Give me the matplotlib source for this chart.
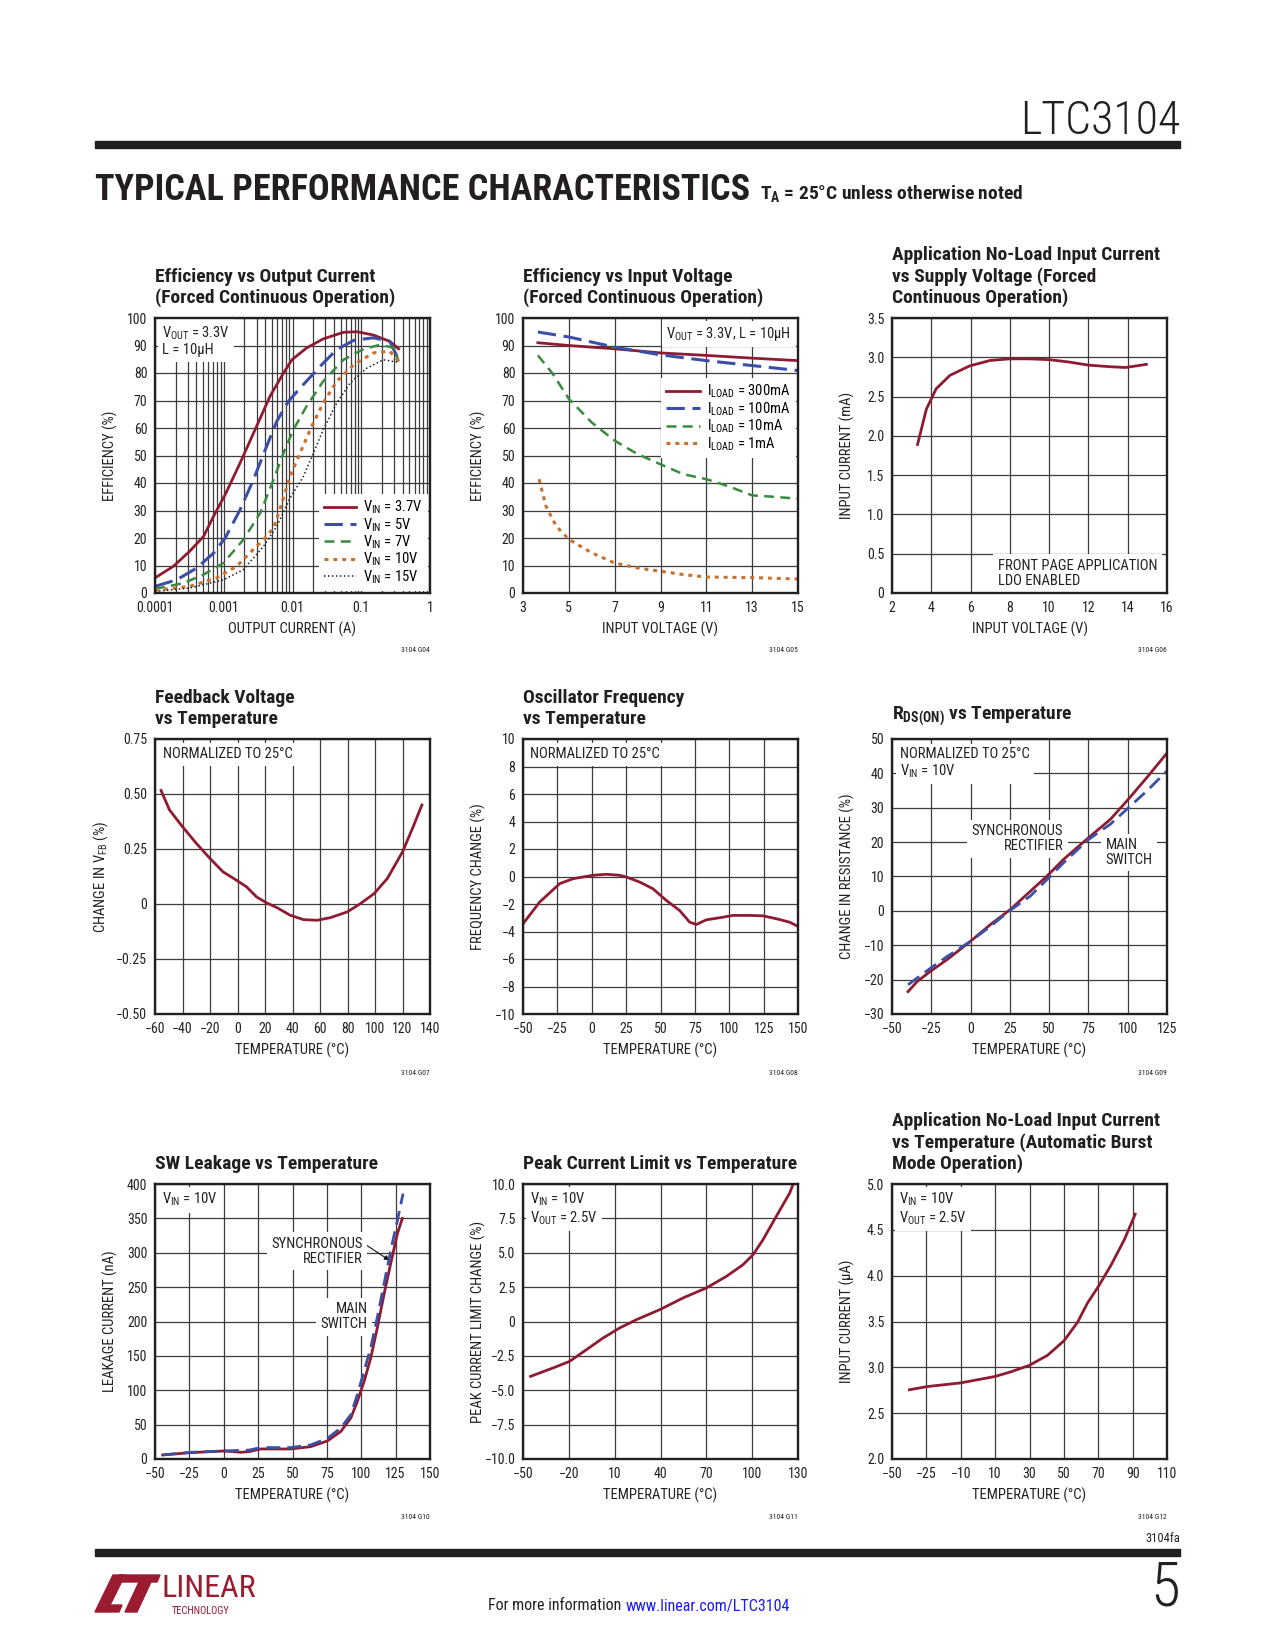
import matplotlib
matplotlib.use('Agg')
import matplotlib.pyplot as plt
from matplotlib.patches import Polygon, Rectangle
from matplotlib.ticker import NullFormatter

# datasheet page: LTC3104 typical performance characteristics

NARROW = ['Roboto Condensed', 'Archivo Narrow', 'PT Sans Narrow', 'Liberation Sans', 'DejaVu Sans']
plt.rcParams['font.family'] = NARROW
plt.rcParams['mathtext.fontset'] = 'custom'
plt.rcParams['mathtext.rm'] = 'Roboto Condensed'
plt.rcParams['mathtext.bf'] = 'Roboto Condensed:bold'
plt.rcParams['mathtext.default'] = 'rm'

# ---- G04: efficiency vs output current ----
iout_vin37 = [1e-4, 1.85e-4, 3.2e-4, 5.1e-4, 7.1e-4, 1.05e-3, 1.73e-3, 3.0e-3, 4.7e-3, 7.4e-3,
              9.8e-3, 0.016, 0.028, 0.055, 0.087, 0.15, 0.26, 0.35]
eff_vin37 = [5.5, 9.7, 15.2, 20.6, 27.9, 35.8, 47.3, 60.6, 71.5, 80.0, 84.8, 89.1, 92.4, 94.8,
             95.0, 93.8, 91.5, 88.8]
iout_vin5 = [1e-4, 2.07e-4, 4.05e-4, 7.1e-4, 1.05e-3, 1.73e-3, 2.7e-3, 4.2e-3, 5.9e-3, 8.7e-3,
             0.0144, 0.028, 0.044, 0.078, 0.15, 0.26, 0.35]
eff_vin5 = [2.4, 4.8, 9.1, 14.5, 20.0, 30.3, 41.2, 53.3, 62.4, 69.7, 75.8, 83.6, 88.5, 91.9,
            92.8, 91.5, 84.8]
iout_vin7 = [1e-4, 2.6e-4, 5.1e-4, 9.9e-4, 1.93e-3, 3.4e-3, 5.3e-3, 7.4e-3, 0.0103, 0.016,
             0.028, 0.055, 0.108, 0.19, 0.30, 0.35]
eff_vin7 = [1.5, 3.6, 6.7, 10.9, 19.4, 29.1, 41.2, 50.9, 59.4, 67.9, 77.0, 84.8, 88.7, 90.3,
            89.1, 84.2]
iout_vin10 = [1e-4, 3.2e-4, 7.9e-4, 1.54e-3, 3.0e-3, 3.8e-3, 5.3e-3, 7.0e-3, 9.2e-3, 0.0129,
              0.019, 0.028, 0.044, 0.078, 0.15, 0.26, 0.35]
eff_vin10 = [1.0, 2.4, 5.5, 9.7, 17.0, 19.4, 23.6, 32.7, 42.4, 50.9, 60.6, 69.1, 77.0, 83.0,
             87.3, 87.9, 84.2]
iout_vin15 = [1e-4, 3.2e-4, 9.9e-4, 1.93e-3, 3.8e-3, 5.9e-3, 9.2e-3, 0.0144, 0.0202, 0.028,
              0.044, 0.069, 0.121, 0.21, 0.35]
eff_vin15 = [0.6, 1.8, 4.8, 8.5, 17.0, 24.2, 34.5, 42.4, 50.9, 59.4, 69.1, 76.4, 81.8, 84.8, 83.9]

# ---- G05: efficiency vs input voltage ----
vin_300ma = [3.65, 5.0, 7.0, 9.0, 11.0, 13.0, 15.0]
eff_300ma = [91.0, 90.0, 88.8, 87.3, 86.4, 85.4, 84.5]
vin_100ma = [3.65, 5.0, 7.0, 9.0, 11.0, 13.0, 15.0]
eff_100ma = [94.9, 93.1, 89.4, 86.6, 84.5, 82.7, 80.9]
vin_10ma = [3.65, 4.3, 5.0, 6.0, 7.0, 8.0, 9.0, 10.0, 11.0, 12.0, 13.0, 13.9, 15.0]
eff_10ma = [86.4, 79.7, 70.6, 62.0, 55.4, 50.5, 46.8, 43.2, 41.4, 38.7, 35.5, 35.0, 34.3]
vin_1ma = [3.7, 4.0, 4.45, 5.0, 6.0, 7.0, 8.0, 9.0, 10.0, 11.0, 13.0, 15.0]
eff_1ma = [41.4, 31.6, 24.3, 19.5, 14.6, 10.9, 9.1, 7.9, 6.7, 5.8, 5.6, 5.1]

# ---- G06: no-load input current vs supply voltage ----
vin_g06 = [3.3, 3.75, 4.25, 4.95, 5.95, 7.0, 8.0, 9.0, 10.0, 11.0, 12.0, 13.1, 13.9, 14.95]
iin_g06 = [1.89, 2.34, 2.60, 2.77, 2.89, 2.96, 2.98, 2.98, 2.97, 2.94, 2.90, 2.88, 2.87, 2.91]

# ---- G07: feedback voltage vs temperature ----
temp_g07 = [-55.6, -49.5, -41, -30, -20, -10.5, -0.7, 6.6, 13.9, 21.2, 28.5, 38.3, 48, 57.8,
            67.6, 79.8, 89.5, 99.3, 109, 120, 127.3, 134.1]
dvfb_g07 = [0.516, 0.428, 0.359, 0.276, 0.207, 0.146, 0.108, 0.078, 0.032, 0.005, -0.016,
            -0.051, -0.071, -0.074, -0.062, -0.036, 0.002, 0.047, 0.116, 0.237, 0.344, 0.45]

# ---- G08: oscillator frequency vs temperature ----
temp_g08 = [-50, -37.9, -23.3, -13.6, 0.9, 10.6, 20.3, 25.2, 34.8, 44.5, 54.2, 63.9, 71.2,
            76.1, 83.3, 93, 102.7, 114.8, 124.5, 134.2, 143.9, 150]
dfreq_g08 = [-3.44, -1.86, -0.52, -0.16, 0.09, 0.16, 0.09, -0.04, -0.40, -0.89, -1.74, -2.47,
             -3.32, -3.49, -3.15, -3.0, -2.83, -2.83, -2.86, -3.07, -3.32, -3.63]

# ---- G09: RDS(ON) vs temperature ----
temp_g09_solid = [-39.8, -34.1, -25.6, -15, -0.2, 12.6, 25.3, 38, 48.6, 59.2, 75.1, 88.9,
                  99.5, 112.2, 125]
dres_solid = [-23.5, -20.6, -17.6, -14.2, -8.9, -4.0, 0.4, 5.7, 10.1, 15.0, 21.3, 26.6,
              32.0, 38.8, 45.9]
temp_g09_dashed = [-39.8, -25.6, -15, -0.2, 12.6, 25.3, 38, 48.6, 59.2, 75.1, 88.9, 99.5,
                   112.2, 125]
dres_dashed = [-21.5, -16.7, -13.3, -8.9, -4.5, 0.2, 4.3, 9.1, 14.0, 20.8, 25.2, 29.6, 34.9, 40.7]

# ---- G10: SW leakage vs temperature ----
temp_g10_solid = [-44.4, -23.8, 0.4, 12.5, 18.5, 27, 48.8, 63.3, 75.4, 85.1, 92.4, 97.2,
                  102.1, 106.9, 111.7, 116.6, 121.4, 126.3, 129.9]
leak_solid = [5.9, 9.3, 11.7, 9.8, 10.7, 14.6, 14.6, 18, 26.3, 40, 59.5, 83.9, 113, 147, 191,
              240, 284, 328, 350]
temp_g10_dashed = [-44.4, -23.8, 0.4, 18.5, 27, 48.8, 63.3, 75.4, 85.1, 92.4, 97.2, 102.1,
                   106.9, 111.7, 116.6, 121.4, 126.3, 130.4]
leak_dashed = [5.9, 9.8, 11.7, 13, 16.6, 16.6, 20.5, 30, 45, 64.4, 93.7, 128, 162, 206, 255,
               303, 347, 386]

# ---- G11: peak current limit vs temperature ----
temp_g11 = [-45, -30.4, -19.5, -8.5, 2.4, 13.3, 24.2, 39.5, 54.7, 70, 83.1, 94, 100.6, 107.1,
            115.8, 124.6, 126.7]
dilim_g11 = [-3.99, -3.38, -2.9, -2.05, -1.2, -0.47, 0.13, 0.86, 1.71, 2.44, 3.28, 4.13, 4.86,
             5.95, 7.65, 9.35, 9.96]

# ---- G12: no-load input current vs temperature ----
temp_g12 = [-39.9, -29.6, -10.1, 9.9, 19, 29.7, 40.4, 50.1, 57.9, 63.7, 70, 77.3, 85.1, 91.5]
iin_g12 = [2.755, 2.79, 2.83, 2.90, 2.95, 3.02, 3.13, 3.29, 3.49, 3.70, 3.88, 4.11, 4.39, 4.67]

# tick values / labels
ticks_eff = [0, 10, 20, 30, 40, 50, 60, 70, 80, 90, 100]
ticks_iout = [1e-4, 1e-3, 1e-2, 0.1, 1]
labels_iout = ['0.0001', '0.001', '0.01', '0.1', '1']
ticks_vin_g05 = [3, 5, 7, 9, 11, 13, 15]
ticks_vin_g06 = [2, 4, 6, 8, 10, 12, 14, 16]
ticks_iin_g06 = [0, 0.5, 1.0, 1.5, 2.0, 2.5, 3.0, 3.5]
labels_iin_g06 = ['0', '0.5', '1.0', '1.5', '2.0', '2.5', '3.0', '3.5']
ticks_t_g07 = [-60, -40, -20, 0, 20, 40, 60, 80, 100, 120, 140]
ticks_vfb_g07 = [-0.5, -0.25, 0, 0.25, 0.5, 0.75]
labels_vfb_g07 = ['\u22120.50', '\u22120.25', '0', '0.25', '0.50', '0.75']
ticks_t_g08 = [-50, -25, 0, 25, 50, 75, 100, 125, 150]
ticks_f_g08 = [-10, -8, -6, -4, -2, 0, 2, 4, 6, 8, 10]
ticks_t_g09 = [-50, -25, 0, 25, 50, 75, 100, 125]
ticks_r_g09 = [-30, -20, -10, 0, 10, 20, 30, 40, 50]
ticks_t_g10 = [-50, -25, 0, 25, 50, 75, 100, 125, 150]
ticks_leak_g10 = [0, 50, 100, 150, 200, 250, 300, 350, 400]
ticks_t_g11 = [-50, -20, 10, 40, 70, 100, 130]
ticks_ilim_g11 = [-10, -7.5, -5, -2.5, 0, 2.5, 5, 7.5, 10]
labels_ilim_g11 = ['\u221210.0', '\u22127.5', '\u22125.0', '\u22122.5', '0', '2.5', '5.0', '7.5', '10.0']
ticks_t_g12 = [-50, -30, -10, 10, 30, 50, 70, 90, 110]
labels_t_g12 = ['\u221250', '\u221225', '\u221210', '10', '30', '50', '70', '90', '110']
ticks_iin_g12 = [2.0, 2.5, 3.0, 3.5, 4.0, 4.5, 5.0]

RED = '#8e1b32'
BLUE = '#3b4fa6'
GREEN = '#3a8a40'
ORANGE = '#c8702e'
INK = '#231f20'
TXT = '#222222'
FS_TICK = 10
FS = 10.5
W, H = 1275, 1650


def lbl(vals):
    return [str(v).replace('-', '\u2212') for v in vals]


def fx(x):
    return x / W


def fy(y):
    return 1 - y / H


def make_axes(fig, left, top, size=275):
    return fig.add_axes([fx(left), fy(top + size), size / W, size / H])


def setup(ax, xlim, ylim, xticks, xlabels, yticks, ylabels, xlabel, ylabel, ylab_x=-0.135):
    ax.set_xlim(xlim)
    ax.set_ylim(ylim)
    ax.set_xticks(xticks)
    ax.set_xticklabels(xlabels)
    ax.set_yticks(yticks)
    ax.set_yticklabels(ylabels)
    ax.grid(True, color='#3c3c3c', lw=0.9)
    ax.set_axisbelow(True)
    ax.tick_params(length=0, pad=5.5, labelsize=FS_TICK, colors=TXT)
    for s in ax.spines.values():
        s.set_linewidth(1.7)
        s.set_color(INK)
    ax.set_xlabel(xlabel, fontsize=FS, color=TXT)
    ax.set_ylabel(ylabel, fontsize=FS, color=TXT)
    ax.xaxis.set_label_coords(0.5, -0.105)
    ax.yaxis.set_label_coords(ylab_x, 0.5)


def title(ax, text):
    ax.text(0, 1.04, text, transform=ax.transAxes, ha='left', va='bottom', fontsize=14,
            fontweight='bold', color=INK, linespacing=1.18)


def note(ax, x, y, text, ha='left', va='top', pad=0.3, coords='axes'):
    tr = ax.transAxes if coords == 'axes' else ax.transData
    ax.text(x, y, text, transform=tr, ha=ha, va=va, fontsize=FS, color=TXT,
            multialignment=ha, zorder=1.5, linespacing=1.1,
            bbox=dict(boxstyle='square,pad=%s' % pad, fc='white', ec='none'))


def fig_id(fig, right, y, text):
    fig.text(fx(right), fy(y), text, ha='right', va='center', fontsize=5.5, color=TXT)


def main():
    fig = plt.figure(figsize=(12.75, 16.5), dpi=100)
    cols = [155, 523, 892]
    rows = [318, 739, 1184]

    # G04
    ax = make_axes(fig, cols[0], rows[0])
    ax.set_xscale('log')
    ax.plot(iout_vin37, eff_vin37, color=RED, lw=2, label='V$_{IN}$ = 3.7V')
    ax.plot(iout_vin5, eff_vin5, color=BLUE, lw=2.2, dashes=(6, 2.5), label='V$_{IN}$ = 5V')
    ax.plot(iout_vin7, eff_vin7, color=GREEN, lw=1.8, dashes=(4, 2.5), label='V$_{IN}$ = 7V')
    ax.plot(iout_vin10, eff_vin10, color=ORANGE, lw=2.2, dashes=(1.3, 1.6), label='V$_{IN}$ = 10V')
    ax.plot(iout_vin15, eff_vin15, color=TXT, lw=1.1, dashes=(1, 1.6), label='V$_{IN}$ = 15V')
    setup(ax, (1e-4, 1), (0, 100), ticks_iout, labels_iout, ticks_eff, lbl(ticks_eff),
          'OUTPUT CURRENT (A)', 'EFFICIENCY (%)')
    ax.xaxis.set_minor_formatter(NullFormatter())
    ax.grid(True, which='minor', axis='x', color='#3c3c3c', lw=0.9)
    ax.tick_params(which='minor', length=0)
    ax.legend(loc='lower right', fontsize=FS, frameon=True, fancybox=False,
              edgecolor='none', framealpha=1, borderaxespad=0.15, handlelength=2.2,
              labelspacing=0.0, handletextpad=0.5, borderpad=0.35)
    note(ax, 0.025, 0.975, 'V$_{OUT}$ = 3.3V\nL = 10\u03bcH')
    title(ax, 'Efficiency vs Output Current\n(Forced Continuous Operation)')
    fig_id(fig, cols[0] + 275, rows[0] + 332, '3104 G04')

    # G05
    ax = make_axes(fig, cols[1], rows[0])
    ax.plot(vin_300ma, eff_300ma, color=RED, lw=2, label='I$_{LOAD}$ = 300mA')
    ax.plot(vin_100ma, eff_100ma, color=BLUE, lw=2.2, dashes=(6, 2.5), label='I$_{LOAD}$ = 100mA')
    ax.plot(vin_10ma, eff_10ma, color=GREEN, lw=1.8, dashes=(4, 2.5), label='I$_{LOAD}$ = 10mA')
    ax.plot(vin_1ma, eff_1ma, color=ORANGE, lw=2.2, dashes=(1.3, 1.6), label='I$_{LOAD}$ = 1mA')
    setup(ax, (3, 15), (0, 100), ticks_vin_g05, lbl(ticks_vin_g05), ticks_eff, lbl(ticks_eff),
          'INPUT VOLTAGE (V)', 'EFFICIENCY (%)')
    ax.legend(loc='upper right', bbox_to_anchor=(1.0, 0.79), fontsize=FS, frameon=True,
              fancybox=False, edgecolor='none', framealpha=1, borderaxespad=0.15,
              handlelength=2.3, labelspacing=0.0, handletextpad=0.5, borderpad=0.35)
    note(ax, 0.975, 0.975, 'V$_{OUT}$ = 3.3V, L = 10\u03bcH', ha='right')
    title(ax, 'Efficiency vs Input Voltage\n(Forced Continuous Operation)')
    fig_id(fig, cols[1] + 275, rows[0] + 332, '3104 G05')

    # G06
    ax = make_axes(fig, cols[2], rows[0])
    ax.plot(vin_g06, iin_g06, color=RED, lw=2)
    setup(ax, (2, 16), (0, 3.5), ticks_vin_g06, lbl(ticks_vin_g06), ticks_iin_g06,
          labels_iin_g06, 'INPUT VOLTAGE (V)', 'INPUT CURRENT (mA)')
    note(ax, 0.385, 0.018, 'FRONT PAGE APPLICATION\nLDO ENABLED', va='bottom', pad=0.35)
    title(ax, 'Application No-Load Input Current\nvs Supply Voltage (Forced\nContinuous Operation)')
    fig_id(fig, cols[2] + 275, rows[0] + 332, '3104 G06')

    # G07
    ax = make_axes(fig, cols[0], rows[1])
    ax.plot(temp_g07, dvfb_g07, color=RED, lw=2)
    setup(ax, (-60, 140), (-0.5, 0.75), ticks_t_g07, lbl(ticks_t_g07), ticks_vfb_g07,
          labels_vfb_g07, 'TEMPERATURE (\u00b0C)', 'CHANGE IN V$_{FB}$ (%)', ylab_x=-0.165)
    note(ax, 0.03, 0.97, 'NORMALIZED TO 25\u00b0C')
    title(ax, 'Feedback Voltage\nvs Temperature')
    fig_id(fig, cols[0] + 275, rows[1] + 334, '3104 G07')

    # G08
    ax = make_axes(fig, cols[1], rows[1])
    ax.plot(temp_g08, dfreq_g08, color=RED, lw=2)
    setup(ax, (-50, 150), (-10, 10), ticks_t_g08, lbl(ticks_t_g08), ticks_f_g08,
          lbl(ticks_f_g08), 'TEMPERATURE (\u00b0C)', 'FREQUENCY CHANGE (%)')
    note(ax, 0.025, 0.97, 'NORMALIZED TO 25\u00b0C')
    title(ax, 'Oscillator Frequency\nvs Temperature')
    fig_id(fig, cols[1] + 275, rows[1] + 334, '3104 G08')

    # G09
    ax = make_axes(fig, cols[2], rows[1])
    ax.plot(temp_g09_solid, dres_solid, color=RED, lw=2)
    ax.plot(temp_g09_dashed, dres_dashed, color=BLUE, lw=2, dashes=(5, 2.5))
    setup(ax, (-50, 125), (-30, 50), ticks_t_g09, lbl(ticks_t_g09), ticks_r_g09,
          lbl(ticks_r_g09), 'TEMPERATURE (\u00b0C)', 'CHANGE IN RESISTANCE (%)')
    note(ax, 0.03, 0.97, 'NORMALIZED TO 25\u00b0C\nV$_{IN}$ = 10V')
    note(ax, 59, 21, 'SYNCHRONOUS\nRECTIFIER', ha='right', va='center', coords='data')
    note(ax, 86, 17, 'MAIN\nSWITCH', ha='left', va='center', coords='data')
    title(ax, r'$\mathbf{R_{DS(ON)}}$ vs Temperature')
    fig_id(fig, cols[2] + 275, rows[1] + 334, '3104 G09')

    # G10
    ax = make_axes(fig, cols[0], rows[2])
    ax.plot(temp_g10_solid, leak_solid, color=RED, lw=2)
    ax.plot(temp_g10_dashed, leak_dashed, color=BLUE, lw=2, dashes=(5, 2.5))
    setup(ax, (-50, 150), (0, 400), ticks_t_g10, lbl(ticks_t_g10), ticks_leak_g10,
          lbl(ticks_leak_g10), 'TEMPERATURE (\u00b0C)', 'LEAKAGE CURRENT (nA)')
    note(ax, 0.025, 0.975, 'V$_{IN}$ = 10V')
    ax.annotate('SYNCHRONOUS\nRECTIFIER', xy=(120.5, 289), xytext=(101, 302), ha='right',
                va='center', fontsize=FS, color=TXT, multialignment='right', zorder=1.5,
                linespacing=1.1,
                bbox=dict(boxstyle='square,pad=0.3', fc='white', ec='none'),
                arrowprops=dict(arrowstyle='-|>', lw=0.8, color='#111111', relpos=(1, 0.8),
                                shrinkA=0, shrinkB=0, mutation_scale=7))
    note(ax, 104.5, 207, 'MAIN\nSWITCH', ha='right', va='center', coords='data')
    title(ax, 'SW Leakage vs Temperature')
    fig_id(fig, cols[0] + 275, rows[2] + 333, '3104 G10')

    # G11
    ax = make_axes(fig, cols[1], rows[2])
    ax.plot(temp_g11, dilim_g11, color=RED, lw=2)
    setup(ax, (-50, 130), (-10, 10), ticks_t_g11, lbl(ticks_t_g11), ticks_ilim_g11,
          labels_ilim_g11, 'TEMPERATURE (\u00b0C)', 'PEAK CURRENT LIMIT CHANGE (%)')
    note(ax, 0.025, 0.975, 'V$_{IN}$ = 10V\nV$_{OUT}$ = 2.5V')
    title(ax, 'Peak Current Limit vs Temperature')
    fig_id(fig, cols[1] + 275, rows[2] + 333, '3104 G11')

    # G12
    ax = make_axes(fig, cols[2], rows[2])
    ax.plot(temp_g12, iin_g12, color=RED, lw=2)
    setup(ax, (-50, 110), (2, 5), ticks_t_g12, labels_t_g12, ticks_iin_g12,
          lbl(ticks_iin_g12), 'TEMPERATURE (\u00b0C)', 'INPUT CURRENT (\u03bcA)')
    note(ax, 0.025, 0.975, 'V$_{IN}$ = 10V\nV$_{OUT}$ = 2.5V')
    title(ax, 'Application No-Load Input Current\nvs Temperature (Automatic Burst\nMode Operation)')
    fig_id(fig, cols[2] + 275, rows[2] + 333, '3104 G12')

    # page header
    fig.add_artist(Rectangle((fx(95), fy(148)), (1180 - 95) / W, 7 / H,
                             transform=fig.transFigure, color=INK))
    fig.text(fx(1180), fy(121), 'LTC3104', ha='right', va='center', fontsize=33,
             fontweight='light', color=INK)
    fig.text(fx(95), fy(190), 'TYPICAL PERFORMANCE CHARACTERISTICS', ha='left', va='center',
             fontsize=26, fontweight='black', color=INK)
    fig.text(fx(760), fy(194), 'T$_{\\mathbf{A}}$ = 25\u00b0C unless otherwise noted',
             ha='left', va='center', fontsize=14, fontweight='bold', color=INK)

    # page footer
    fig.text(fx(1180), fy(1538), '3104fa', ha='right', va='center', fontsize=9, color=TXT)
    fig.add_artist(Rectangle((fx(95), fy(1556)), (1180 - 95) / W, 7 / H,
                             transform=fig.transFigure, color=INK))
    fig.text(fx(1180), fy(1589), '5', ha='right', va='center', fontsize=44,
             fontweight='light', color=INK)
    fig.text(fx(625), fy(1606), 'For more information ', ha='right', va='center', fontsize=11.5,
             color=TXT)
    fig.text(fx(626), fy(1606), 'www.linear.com/LTC3104', ha='left', va='center', fontsize=11.5,
             color='#1a1aff')

    # logo
    logo_red = '#9b1b30'
    swoosh = [(95, 1612), (119, 1612), (122, 1605), (110, 1605), (125, 1575), (113, 1575)]
    t_bar = [(120, 1575), (160, 1575), (157, 1582), (117, 1582)]
    t_stem = [(139, 1582), (151, 1582), (137, 1612), (125, 1612)]
    for shape in (swoosh, t_bar, t_stem):
        fig.add_artist(Polygon([(fx(a), fy(b)) for a, b in shape], closed=True,
                               transform=fig.transFigure, color=logo_red))
    fig.text(fx(162), fy(1597), 'LINEAR', ha='left', va='baseline', fontsize=23,
             color=logo_red)
    fig.text(fx(172), fy(1614), 'TECHNOLOGY', ha='left', va='baseline', fontsize=7.5,
             color=logo_red)

    fig.savefig('out.png', dpi=100, facecolor='white')


if __name__ == '__main__':
    main()
